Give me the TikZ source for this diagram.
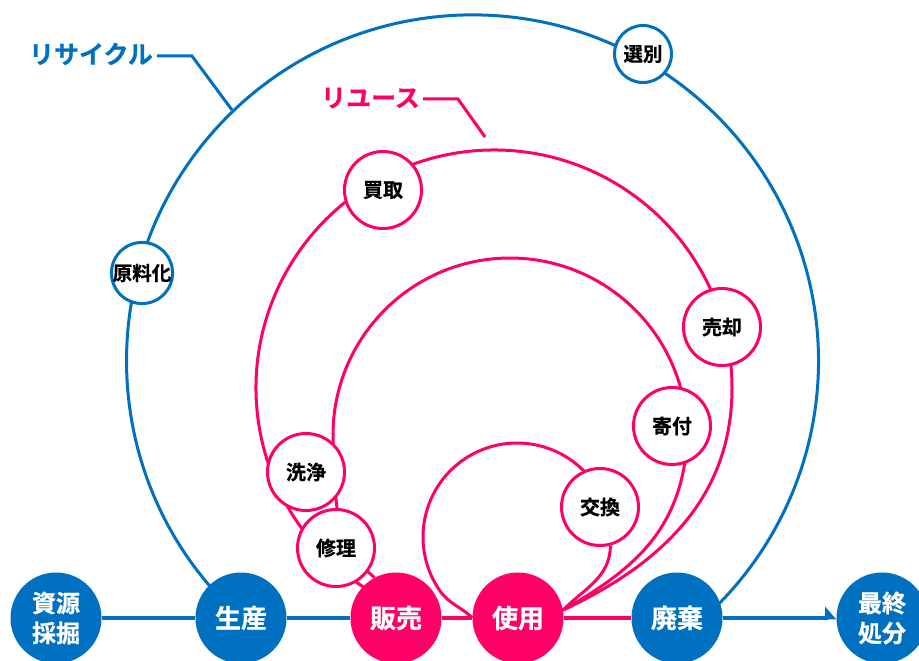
\documentclass[tikz,border=0pt]{standalone}
\usepackage{fontspec}
\setmainfont{Noto Sans CJK JP}[BoldFont={Noto Sans CJK JP Bold}, BoldFeatures={FakeBold=0.6}]
\usetikzlibrary{arrows.meta,backgrounds,calc}
\definecolor{rblue}{HTML}{0070C0}
\definecolor{rpink}{HTML}{FF0066}
\begin{document}
\begin{tikzpicture}[x=1pt,y=1pt,
  bignode/.style={circle, minimum size=91pt, inner sep=0pt, text=white, align=center,
    font=\fontsize{26}{30}\selectfont\bfseries},
  twoline/.style={font=\fontsize{24}{30}\selectfont\bfseries},
  bluebig/.style={bignode, fill=rblue},
  pinkbig/.style={bignode, fill=rpink},
  smallblue/.style={circle, draw=rblue, line width=3pt, fill=white, minimum size=57pt,
    inner sep=0pt, text=black, font=\fontsize{19.5}{20}\selectfont\bfseries},
  smallpink/.style={circle, draw=rpink, line width=3pt, fill=white, minimum size=77pt,
    inner sep=0pt, text=black, font=\fontsize{20}{20}\selectfont\bfseries},
  bline/.style={draw=rblue, line width=3pt},
  hline/.style={line width=3.5pt},
  pline/.style={draw=rpink, line width=3pt},
  lbl/.style={font=\fontsize{25}{30}\selectfont\bfseries, inner sep=0pt, anchor=east}
]
\useasboundingbox (0,0) rectangle (919,-661);

% main flow
\node[bluebig, twoline] (sigen) at (56,-618) {資源\\採掘};
\node[bluebig] (seisan) at (241,-618) {生産};
\node[pinkbig] (hanbai) at (396,-618) {販売};
\node[pinkbig] (shiyo) at (518,-618) {使用};
\node[bluebig] (haiki) at (677,-618) {廃棄};
\node[bluebig, twoline] (saishu) at (882,-618) {最終\\処分};

% recycle loop nodes
\node[smallblue] (senbetsu) at (643,-54) {選別};
\node[smallblue] (genryo) at (142,-273) {原料化};

% reuse loop nodes
\node[smallpink] (kaitori) at (383,-190) {買取};
\node[smallpink] (baikyaku) at (722,-327) {売却};
\node[smallpink] (kifu) at (672,-426) {寄付};
\node[smallpink] (senjo) at (306,-472) {洗浄};
\node[smallpink] (shuri) at (336,-548) {修理};
\node[smallpink] (kokan) at (600,-507) {交換};

% labels
\node[lbl, text=rblue] (rc) at (153,-54) {リサイクル};
\node[lbl, text=rpink] (ru) at (420,-98) {リユース};

% geometry helpers
\coordinate (bc) at (474,-360);
\coordinate (oc) at (494,-388);
\coordinate (mc) at (510,-435);
\coordinate (ic) at (517,-537);
\coordinate (rcend) at (232,-110);
\coordinate (ruend) at (485,-137);
\coordinate (m1) at ($(mc)+(183.2:177)$);
\coordinate (i1) at ($(ic)+(215:94)$);

\begin{scope}[on background layer]
  \fill[white] (0,0) rectangle (919,-661);
  % horizontal flow
  \draw[bline, hline] (sigen) -- (seisan);
  \draw[bline, hline] (seisan) -- (hanbai);
  \draw[pline, hline] (hanbai) -- (shiyo);
  \draw[pline, hline] (shiyo) -- (haiki);
  \draw[bline, hline, -{Triangle[harpoon, length=10pt, width=22pt]}] (haiki) -- (saishu);
  % recycle loop
  \draw[bline] (seisan.center) arc[start angle=228, end angle=-48, radius=346];
  % reuse loops
  \draw[pline] ($(oc)+(238:238)$) arc[start angle=238, end angle=0, radius=238]
    to[out=-90, in=25] (shiyo.10);
  \draw[pline] (hanbai.118) to[out=140, in=-88] (m1)
    arc[start angle=183.2, end angle=-10, radius=177]
    to[out=-100, in=30] (shiyo.10);
  \draw[pline] (shiyo.west) to[out=135, in=-55] (i1)
    arc[start angle=215, end angle=20, radius=94];
  \draw[pline] (kokan.-75) to[out=-90, in=45] (shiyo.10);
  % label leaders
  \draw[bline] ([xshift=4pt,yshift=-2pt]rc.east) -- ++(35,0) -- (rcend);
  \draw[pline] ([xshift=3pt,yshift=-1pt]ru.east) -- ++(35,0) -- (ruend);
\end{scope}
\end{tikzpicture}
\end{document}
